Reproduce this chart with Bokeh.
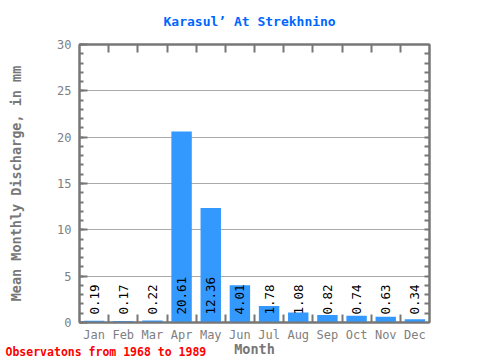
import math
from bokeh.plotting import figure
from bokeh.models import (Range1d, LinearAxis, FixedTicker, SingleIntervalTicker,
                          Title, ColumnDataSource)
from bokeh.embed import file_html
from bokeh.resources import INLINE
from bokeh.core.properties import value

# ---- data ----
months = ["Jan", "Feb", "Mar", "Apr", "May", "Jun",
          "Jul", "Aug", "Sep", "Oct", "Nov", "Dec"]
discharge = [0.19, 0.17, 0.22, 20.61, 12.36, 4.01,
             1.78, 1.08, 0.82, 0.74, 0.63, 0.34]
title_text = "Karasul’ At Strekhnino"
y_label = "Mean Monthly Discharge, in mm"
x_label = "Month"
footer_text = "Observatons from 1968 to 1989"
y_min, y_max = 0, 30
y_step = 5

FONT = "DejaVu Sans Mono"
GRAY = "#777777"
LABEL_GRAY = "#808080"

n = len(months)
centers = [i + 0.5 for i in range(n)]
boundaries = list(range(1, n))
unit_ticks = list(range(y_min + 1, y_max))

src = ColumnDataSource(dict(
    x=centers,
    top=discharge,
    base=[0] * n,
    label=[f"{v:.2f}" for v in discharge],
))

p = figure(width=480, height=360,
           x_range=Range1d(0, n), y_range=Range1d(y_min, y_max),
           output_backend="svg", toolbar_location=None,
           min_border_left=79, min_border_right=51,
           min_border_top=43, min_border_bottom=38,
           background_fill_color="white", border_fill_color="white")

p.vbar(x="x", top="top", width=0.7, source=src,
       fill_color="#3399ff", line_color=None)

p.text(x="x", y="base", text="label", source=src,
       angle=math.pi / 2, text_align="left", text_baseline="middle",
       y_offset=-8, text_font=value(FONT), text_font_size="12.5px",
       text_color="black")

# title
p.title.text = title_text
p.title.align = "left"
p.title.vertical_align = "top"
p.title.offset = 84
p.title.text_font = FONT
p.title.text_font_size = "13px"
p.title.text_font_style = "bold"
p.title.text_color = "#0066ff"
p.title.standoff = 27

# frame
p.outline_line_color = GRAY
p.outline_line_width = 2
p.outline_line_alpha = 1

# grid
p.xgrid.visible = False
p.ygrid.grid_line_color = "#aaaaaa"
p.ygrid.grid_line_width = 1

# bottom axis
xa = p.xaxis[0]
xa.ticker = FixedTicker(ticks=centers, minor_ticks=boundaries)
xa.major_label_overrides = {c: m for c, m in zip(centers, months)}
xa.major_tick_in = 0
xa.major_tick_out = 0
xa.minor_tick_in = 8
xa.minor_tick_out = 0
xa.minor_tick_line_color = GRAY
xa.minor_tick_line_width = 2
xa.axis_line_color = GRAY
xa.axis_line_width = 2
xa.major_label_standoff = 5
xa.major_label_text_font = FONT
xa.major_label_text_font_size = "12px"
xa.major_label_text_color = LABEL_GRAY
xa.axis_label = x_label
xa.axis_label_standoff = -4
xa.axis_label_text_font = FONT
xa.axis_label_text_font_size = "13.5px"
xa.axis_label_text_font_style = "bold"
xa.axis_label_text_color = GRAY

# left axis
ya = p.yaxis[0]
ya.ticker = SingleIntervalTicker(interval=y_step, num_minor_ticks=5)
ya.major_tick_in = 8
ya.major_tick_out = 0
ya.minor_tick_in = 4
ya.minor_tick_out = 0
ya.major_tick_line_color = GRAY
ya.minor_tick_line_color = GRAY
ya.major_tick_line_width = 2
ya.minor_tick_line_width = 2
ya.axis_line_color = GRAY
ya.axis_line_width = 2
ya.major_label_standoff = 8
ya.major_label_text_font = FONT
ya.major_label_text_font_size = "12px"
ya.major_label_text_color = LABEL_GRAY
ya.axis_label = y_label
ya.axis_label_standoff = 30
ya.axis_label_text_font = FONT
ya.axis_label_text_font_size = "13.5px"
ya.axis_label_text_font_style = "bold"
ya.axis_label_text_color = GRAY

# right axis (ticks only)
ra = LinearAxis(ticker=FixedTicker(ticks=[], minor_ticks=unit_ticks),
                major_tick_in=0, major_tick_out=0,
                minor_tick_in=5, minor_tick_out=0,
                minor_tick_line_color=GRAY, minor_tick_line_width=2,
                axis_line_color=GRAY, axis_line_width=2)
p.add_layout(ra, "right")

# top axis (ticks only)
ta = LinearAxis(ticker=FixedTicker(ticks=[], minor_ticks=boundaries),
                major_tick_in=0, major_tick_out=0,
                minor_tick_in=8, minor_tick_out=0,
                minor_tick_line_color=GRAY, minor_tick_line_width=2,
                axis_line_color=GRAY, axis_line_width=2,
                major_label_standoff=0)
p.add_layout(ta, "above")

# footer (pulled up into the axis-label row)
footer = Title(text=footer_text, align="left", vertical_align="top",
               offset=-74, standoff=-30,
               text_font=FONT, text_font_size="11.5px", text_font_style="bold",
               text_color="#ff0000")
p.add_layout(footer, "below")

open("out.html", "w").write(file_html(p, INLINE))
